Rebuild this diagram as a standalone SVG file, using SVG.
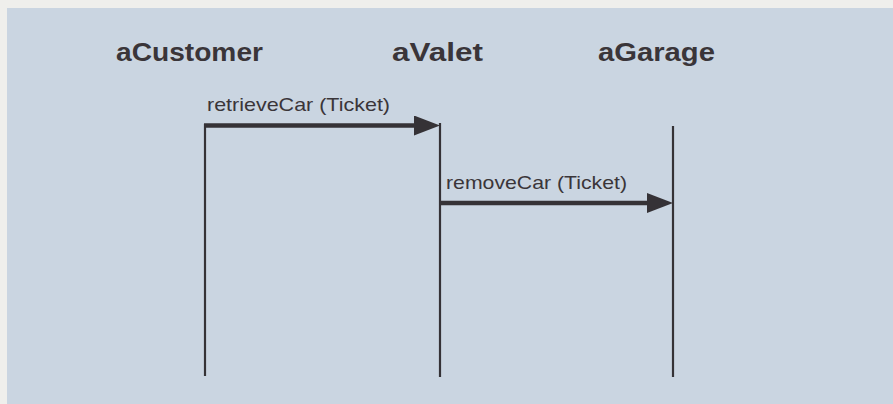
<svg xmlns="http://www.w3.org/2000/svg" width="893" height="404" viewBox="0 0 893 404">
  <style>
    .actor { font-family: "Liberation Sans", Arial, sans-serif; font-weight: bold; font-size: 26px; fill: #3a3539; }
    .msg { font-family: "Liberation Sans", Arial, sans-serif; font-size: 19px; fill: #3a3539; }
    .life { stroke: #353236; stroke-width: 2.2; fill: none; }
    .call { stroke: #353236; stroke-width: 4.5; fill: none; marker-end: url(#head); }
  </style>
  <defs>
    <marker id="head" markerUnits="userSpaceOnUse" markerWidth="27" markerHeight="22" refX="10" refY="10" orient="auto">
      <path d="M0,0 L26,10 L0,20 Z" fill="#353236"/>
    </marker>
  </defs>

  <!-- page and panel -->
  <rect x="0" y="0" width="893" height="404" fill="#efefec"/>
  <rect x="7" y="8" width="886" height="396" fill="#cad5e1"/>

  <!-- participants with lifelines -->
  <g id="aCustomer">
    <text class="actor" x="116" y="61" textLength="147" lengthAdjust="spacingAndGlyphs">aCustomer</text>
    <line class="life" x1="205" y1="124" x2="205" y2="376"/>
  </g>
  <g id="aValet">
    <text class="actor" x="392" y="61" textLength="91" lengthAdjust="spacingAndGlyphs">aValet</text>
    <line class="life" x1="440" y1="123" x2="440" y2="377"/>
  </g>
  <g id="aGarage">
    <text class="actor" x="598" y="61" textLength="117" lengthAdjust="spacingAndGlyphs">aGarage</text>
    <line class="life" x1="673" y1="126" x2="673" y2="377"/>
  </g>

  <!-- messages -->
  <g id="connectors">
    <g id="retrieveCar">
      <text class="msg" x="207" y="111" textLength="183" lengthAdjust="spacingAndGlyphs">retrieveCar (Ticket)</text>
      <line class="call" x1="204" y1="125.5" x2="424" y2="125.5"/>
    </g>
    <g id="removeCar">
      <text class="msg" x="446" y="189" textLength="181" lengthAdjust="spacingAndGlyphs">removeCar (Ticket)</text>
      <line class="call" x1="440" y1="203" x2="657" y2="203"/>
    </g>
  </g>
</svg>
